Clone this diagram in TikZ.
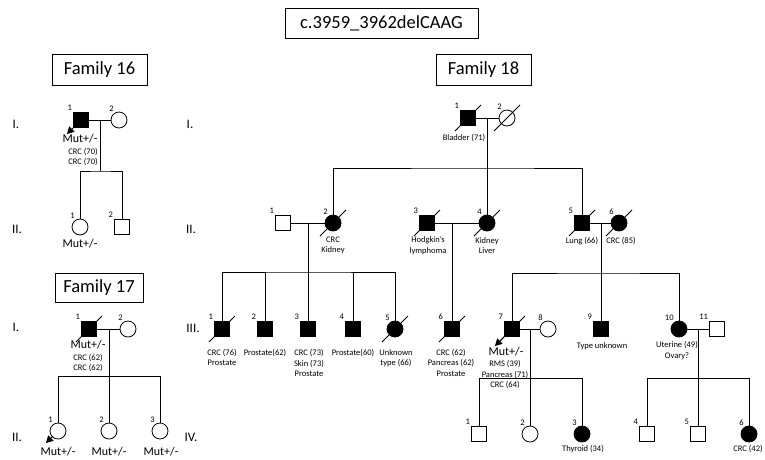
\documentclass[tikz,border=0pt]{standalone}
\usepackage{fontspec}
\setmainfont{Carlito}
\usetikzlibrary{arrows.meta,positioning}
\tikzset{
  male/.style={rectangle, draw, line width=0.8pt, minimum size=15pt, inner sep=0pt,
               label={[num]135:#1}},
  female/.style={circle, draw, line width=0.8pt, minimum size=16pt, inner sep=0pt,
                 label={[num]120:#1}},
  aff/.style={fill=black},
  num/.style={font=\fontsize{8.5}{9}\selectfont, inner sep=1pt},
  txt/.style={font=\fontsize{8.5}{10.5}\selectfont, align=center, inner sep=0pt},
  mut/.style={font=\fontsize{12}{13}\selectfont, inner sep=0pt},
  gen/.style={font=\fontsize{13}{14}\selectfont, inner sep=0pt},
  hdrbox/.style={rectangle, draw, line width=0.8pt, font=\fontsize{18.5}{20}\selectfont,
                 minimum width=95pt, minimum height=31pt, inner sep=0pt},
  ln/.style={line width=0.8pt},
  proband/.style={line width=0.8pt, -{Triangle[length=7pt,width=7.5pt]}},
}

\begin{document}
\begin{tikzpicture}[x=1pt,y=-1pt]
\useasboundingbox (0,0) rectangle (765,459);

% ---------- headers ----------
\node[hdrbox,minimum width=193pt,minimum height=30pt] (title) at (381.5,23) {c.3959\_3962delCAAG};
\node[hdrbox] (hdr16) at (99.5,69.5) {Family 16};
\node[hdrbox] (hdr18) at (483.5,70) {Family 18};
\node[hdrbox,minimum width=88pt,minimum height=29pt] (hdr17) at (99,287.5) {Family 17};

% ---------- generation labels ----------
\node[gen] (g16i) at (16,124) {I.};
\node[gen] (g16ii) at (17,229) {II.};
\node[gen] (g17i) at (16,327) {I.};
\node[gen] (g17ii) at (17,437) {II.};
\node[gen] (g18i) at (190,124) {I.};
\node[gen] (g18ii) at (191,229) {II.};
\node[gen] (g18iii) at (193,328) {III.};
\node[gen] (g18iv) at (191,437) {IV.};

% ---------- family 16 ----------
\node[male=1,aff] (f16i1) at (81,120) {};
\node[female=2] (f16i2) at (119,120) {};
\node[female=1] (f16ii1) at (80,227) {};
\node[male=2] (f16ii2) at (122,227) {};
\coordinate (m16) at (100,120);
\coordinate (s16) at (100,171);
\draw[ln] (f16i1) -- (f16i2);
\draw[ln] (m16) -- (s16);
\draw[ln] (f16ii1.north) |- (s16) -| (f16ii2.north);
\draw[proband] (f16i1.center) +(-7,7) -- +(-14,14);
\node[mut] (t16a) at (80,139) {Mut+/-};
\node[txt] (t16b) at (83,157) {CRC (70)\\CRC (70)};
\node[mut] (t16c) at (80,244) {Mut+/-};

% ---------- family 17 ----------
\node[male=1,aff] (f17i1) at (89,329) {};
\node[female=2] (f17i2) at (128,329) {};
\node[female=1] (f17ii1) at (58,431) {};
\node[female=2] (f17ii2) at (109,431) {};
\node[female=3] (f17ii3) at (160,431) {};
\coordinate (m17) at (109,329);
\coordinate (s17) at (109,376);
\draw[ln] (f17i1) -- (f17i2);
\draw[ln] (m17) -- (f17ii2.north);
\draw[ln] (f17ii1.north) |- (s17) -| (f17ii3.north);
\draw[ln] (f17i1.center) +(-13,13) -- +(13,-13);
\draw[proband] (f17ii1.center) +(-5,5) -- +(-12,12);
\node[mut] (t17a) at (88,345) {Mut+/-};
\node[txt] (t17b) at (88,363) {CRC (62)\\CRC (62)};
\node[mut] (t17c) at (58,452) {Mut+/-};
\node[mut] (t17d) at (109,452) {Mut+/-};
\node[mut] (t17e) at (161,452) {Mut+/-};

% ---------- family 18, generation I ----------
\node[male=1,aff] (f18i1) at (468,118) {};
\node[female=2] (f18i2) at (507,118) {};
\coordinate (m18a) at (487,118);
\coordinate (s18a) at (487,168);
\draw[ln] (f18i1) -- (f18i2);
\node[txt] (t18i1) at (464,138) {Bladder (71)};

% ---------- family 18, generation II ----------
\node[male=1] (f18ii1) at (283,223) {};
\node[female=2,aff] (f18ii2) at (333,223) {};
\node[male=3,aff] (f18ii3) at (427,223) {};
\node[female=4,aff] (f18ii4) at (487,223) {};
\node[male=5,aff] (f18ii5) at (582,223) {};
\node[female=6,aff] (f18ii6) at (619,223) {};
\draw[ln] (m18a) -- (f18ii4.north);
\draw[ln] (f18ii2.north) |- (s18a) -| (f18ii5.north);
\draw[ln] (f18ii1) -- (f18ii2);
\draw[ln] (f18ii3) -- (f18ii4);
\draw[ln] (f18ii5) -- (f18ii6);
\coordinate (m18b) at (308,223);
\coordinate (s18b) at (308,272);
\coordinate (m18c) at (452,223);
\coordinate (m18d) at (601,223);
\coordinate (s18d) at (601,273);
\node[txt] (t18ii2) at (333,245.5) {CRC\\Kidney};
\node[txt] (t18ii3) at (428,245.5) {Hodgkin's\\lymphoma};
\node[txt] (t18ii4) at (487,245.5) {Kidney\\Liver};
\node[txt] (t18ii5) at (582,241) {Lung (66)};
\node[txt] (t18ii6) at (621,241) {CRC (85)};

% ---------- family 18, generation III ----------
\node[male=1,aff] (f18iii1) at (222,329) {};
\node[male=2,aff] (f18iii2) at (265,329) {};
\node[male=3,aff] (f18iii3) at (308,329) {};
\node[male=4,aff] (f18iii4) at (353,329) {};
\node[female=5,aff] (f18iii5) at (395,329) {};
\node[male=6,aff] (f18iii6) at (452,329) {};
\node[male=7,aff] (f18iii7) at (512,329) {};
\node[female=8] (f18iii8) at (548,329) {};
\node[male=9,aff] (f18iii9) at (601,329) {};
\node[female=10,aff] (f18iii10) at (679,329) {};
\node[male=11] (f18iii11) at (717,329) {};
\draw[ln] (m18b) -- (f18iii3.north);
\draw[ln] (f18iii1.north) |- (s18b) -| (f18iii5.north);
\draw[ln] (f18iii2.north) -- (f18iii2.north |- s18b);
\draw[ln] (f18iii4.north) -- (f18iii4.north |- s18b);
\draw[ln] (m18c) -- (f18iii6.north);
\draw[ln] (m18d) -- (f18iii9.north);
\draw[ln] (f18iii7.north) |- (s18d) -| (f18iii10.north);
\draw[ln] (f18iii7) -- (f18iii8);
\draw[ln] (f18iii10) -- (f18iii11);
\coordinate (m18e) at (530,329);
\coordinate (s18e) at (530,378);
\coordinate (m18f) at (698,329);
\coordinate (s18f) at (698,378);
\draw[proband] (f18iii7.center) +(-7,7) -- +(-17,17);
\node[txt] (t18iii1) at (222,357.5) {CRC (76)\\Prostate};
\node[txt] (t18iii2) at (265,353) {Prostate(62)};
\node[txt] (t18iii3) at (309,363) {CRC (73)\\Skin (73)\\Prostate};
\node[txt] (t18iii4) at (353,353) {Prostate(60)};
\node[txt] (t18iii5) at (396,358) {Unknown\\type (66)};
\node[txt] (t18iii6) at (451,362.5) {CRC (62)\\Pancreas (62)\\Prostate};
\node[mut] (t18iii7a) at (506,352) {Mut+/-};
\node[txt] (t18iii7b) at (505,374.5) {RMS (39)\\Pancreas (71)\\CRC (64)};
\node[txt] (t18iii9) at (602,346) {Type unknown};
\node[txt] (t18iii10) at (677,350.5) {Uterine (49)\\Ovary?};

% ---------- family 18, generation IV ----------
\node[male=1] (f18iv1) at (479,434) {};
\node[female=2] (f18iv2) at (530,434) {};
\node[female=3,aff] (f18iv3) at (582,434) {};
\node[male=4] (f18iv4) at (647,434) {};
\node[male=5] (f18iv5) at (698,434) {};
\node[female=6,aff] (f18iv6) at (749,434) {};
\draw[ln] (m18e) -- (f18iv2.north);
\draw[ln] (f18iv1.north) |- (s18e) -| (f18iv3.north);
\draw[ln] (m18f) -- (f18iv5.north);
\draw[ln] (f18iv4.north) |- (s18f) -| (f18iv6.north);
\node[txt] (t18iv3) at (583,449) {Thyroid (34)};
\node[txt] (t18iv6) at (748,449) {CRC (42)};

% ---------- deceased ----------
\foreach \p in {f18i1,f18i2,f18ii2,f18ii3,f18ii4,f18ii5,f18ii6,
                f18iii1,f18iii5,f18iii6,f18iii7}
  \draw[ln] (\p.center) +(-13,13) -- +(13,-13);
\end{tikzpicture}
\end{document}
